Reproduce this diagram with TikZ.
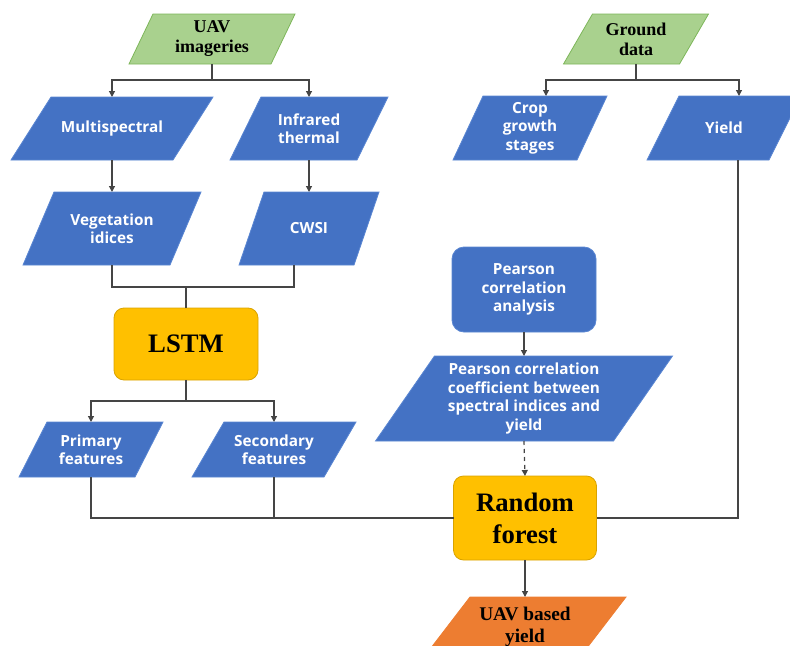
\documentclass[tikz,border=0pt]{standalone}
\usepackage{fontspec}
\setmainfont{Liberation Serif}
\newfontfamily\boxfont{Open Sans}
\usetikzlibrary{calc,backgrounds,arrows.meta}
\definecolor{bluef}{HTML}{4472C4}
\definecolor{blued}{HTML}{5A86D2}
\definecolor{greenf}{HTML}{A9D18E}
\definecolor{greend}{HTML}{7DB65A}
\definecolor{yellowf}{HTML}{FFC000}
\definecolor{yellowd}{HTML}{D9A300}
\definecolor{orangef}{HTML}{ED7D31}
\definecolor{linec}{HTML}{454545}
\newcommand\pgm[4]{\path[fill=#3,draw=#4,line width=0.6pt]
  ($(#1.north west)+(#2*0.375pt,0pt)$) -- ($(#1.north east)+(#2*0.375pt,0pt)$) --
  ($(#1.south east)-(#2*0.375pt,0pt)$) -- ($(#1.south west)-(#2*0.375pt,0pt)$) -- cycle;}
\tikzset{
  every node/.style={inner sep=0pt, outer sep=0pt, align=center},
  sz/.style 2 args={minimum width=#1*0.75pt, minimum height=#2*0.75pt},
  bt/.style={text=white, font=\boxfont\bfseries\fontsize{11.5}{13.8}\selectfont},
  st/.style={text=black, font=\bfseries\fontsize{13.5}{15}\selectfont},
  bigt/.style={text=black, font=\bfseries\fontsize{20}{24}\selectfont},
  rbox/.style={rounded corners=7.5pt, line width=0.6pt},
  conn/.style={draw=linec, line width=0.9pt},
  arr/.style={conn, -{Triangle[length=4.5pt,width=4.5pt]}},
}
\begin{document}
\begin{tikzpicture}[x=0.75pt, y=-0.75pt]
\useasboundingbox (0,0) rectangle (790,646);
% top sources
\node[sz={142}{50}, st] (uav) at (212,39) {UAV\\imageries};
\node[sz={116}{50}, st] (gd) at (636,39) {Ground\\data};
% second row
\node[sz={162}{63}, bt] (ms) at (112,128.5) {Multispectral};
\node[sz={127}{63}, bt] (ir) at (309,128.5) {Infrared\\thermal};
\node[sz={124}{64}, bt] (crop) at (530,128) {Crop\\growth\\stages};
\node[sz={122}{64}, bt] (yld) at (724,128) {Yield};
% third row
\node[sz={147}{73}, bt] (veg) at (112,228.5) {Vegetation\\idices};
\node[sz={115}{73}, bt] (cwsi) at (309,228.5) {CWSI};
% LSTM
\node[sz={144}{72}, bigt, rbox, fill=yellowf, draw=yellowd] (lstm) at (186,344) {LSTM};
% features
\node[sz={116}{55}, bt] (prim) at (91,449.5) {Primary\\features};
\node[sz={132}{55}, bt] (sec) at (274,449.5) {Secondary\\features};
% Pearson
\node[sz={144}{85}, bt, rbox, rounded corners=9pt, fill=bluef, draw=blued] (pca) at (524,289.5) {Pearson\\correlation\\analysis};
\node[sz={238}{85}, bt] (pcc) at (524,398.5) {Pearson correlation\\coefficient between\\spectral indices and\\yield};
% random forest
\node[sz={143}{84}, bigt, rbox, fill=yellowf, draw=yellowd] (rf) at (525,518) {Random\\forest};
% output
\node[sz={156}{60}, text=black, font=\bfseries\fontsize{14.5}{16.5}\selectfont] (out) at (525,627) {UAV based\\yield};

\begin{scope}[on background layer]
\pgm{uav}{24}{greenf}{greend}
\pgm{gd}{29}{greenf}{greend}
\pgm{ms}{40}{bluef}{blued}
\pgm{ir}{31}{bluef}{blued}
\pgm{crop}{30}{bluef}{blued}
\pgm{yld}{32}{bluef}{blued}
\pgm{veg}{31}{bluef}{blued}
\pgm{cwsi}{25}{bluef}{blued}
\pgm{prim}{28}{bluef}{blued}
\pgm{sec}{32}{bluef}{blued}
\pgm{pcc}{59}{bluef}{blued}
\pgm{out}{46}{orangef}{orangef}
\end{scope}

% connectors
\coordinate (cropT) at ([xshift=12pt]crop.north);
\coordinate (yldT) at ([xshift=11.25pt]yld.north);
\coordinate (yldB) at ([xshift=10.5pt]yld.south);
\coordinate (cwsiB) at ([xshift=-11.25pt]cwsi.south);

\draw[arr] (uav.south) -- ++(0,16) -| (ms.north);
\draw[arr] (uav.south) -- ++(0,16) -| (ir.north);
\draw[arr] (gd.south) -- ++(0,16) -| (cropT);
\draw[arr] (gd.south) -- ++(0,16) -| (yldT);
\draw[arr] (ms.south) -- (veg.north);
\draw[arr] (ir.south) -- (cwsi.north);
\draw[conn] (veg.south) -- ++(0,22) coordinate (j1) -| (cwsiB);
\draw[conn] (lstm.north) -- (lstm.north |- j1);
\draw[arr] (lstm.south) -- ++(0,21) -| (prim.north);
\draw[arr] (lstm.south) -- ++(0,21) -| (sec.north);
\draw[conn] (prim.south) |- (rf.west);
\draw[conn] (sec.south) -- (sec.south |- rf.west);
\draw[conn] (yldB) |- (rf.east);
\draw[arr] (pca.south) -- (pcc.north);
\draw[arr, dashed] (pcc.south) -- (rf.north);
\draw[arr] (rf.south) -- (out.north);
\end{tikzpicture}
\end{document}
